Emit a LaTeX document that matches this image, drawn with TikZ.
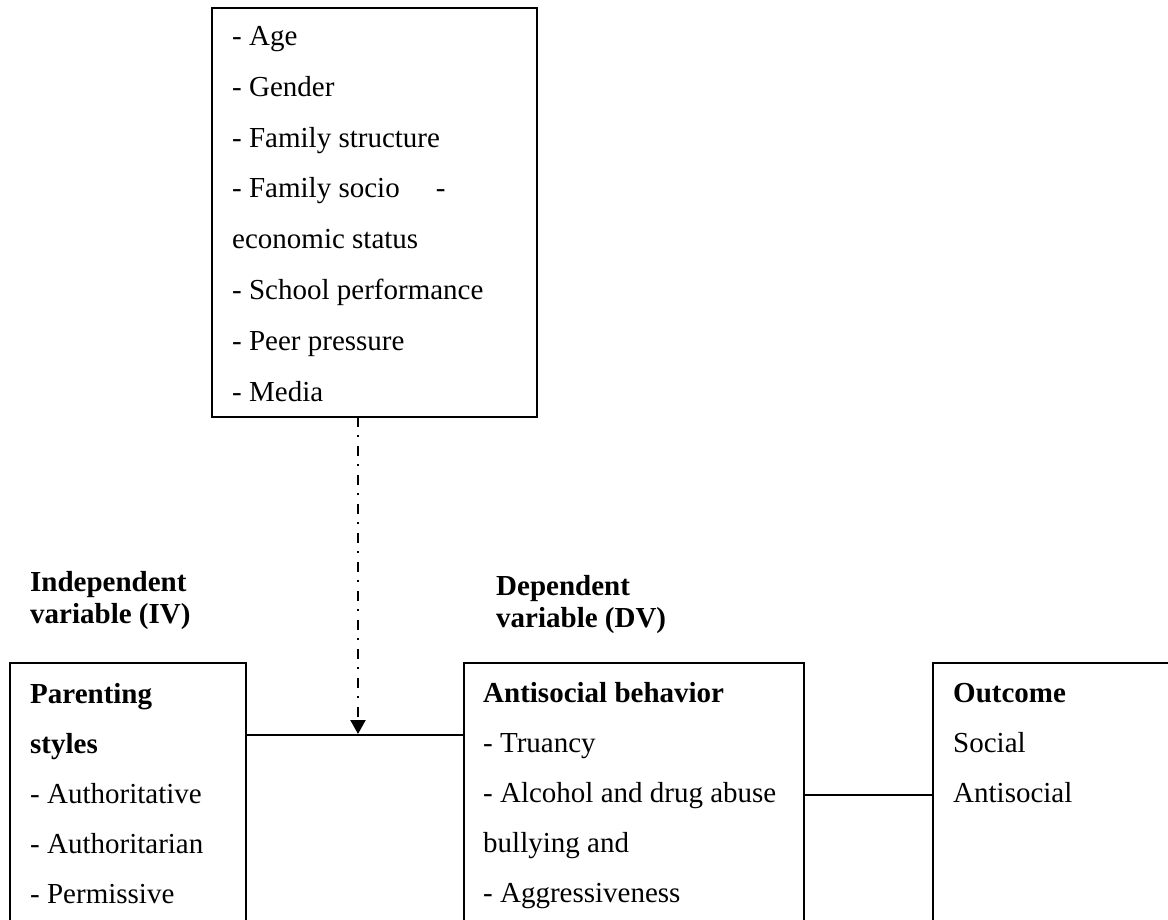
\documentclass[tikz,border=0pt]{standalone}
\usepackage{fontspec}
\setmainfont{Liberation Serif}
\usetikzlibrary{
    arrows.meta,
    positioning,
    calc
}
\tikzset{%
    >={Triangle[width=15pt,length=14pt]},
    % Specifications for style of boxes and texts:
    box/.style = {
        rectangle, draw=black, line width=2.2pt,
        inner sep=0pt, outer sep=0pt, anchor=north west
    },
    txt/.style = {
        anchor=base west, inner sep=0pt, align=left,
        font=\fontsize{29pt}{50pt}\selectfont
    },
    head/.style = {
        txt, font=\fontsize{29pt}{32pt}\selectfont\bfseries
    },
    link/.style = {draw=black, line width=2.2pt},
    modline/.style = {link, dash pattern=on 10pt off 8pt on 2pt off 9pt}
}

\begin{document}
\begin{tikzpicture}[x=1pt, y=-1pt]
    \useasboundingbox[fill=white] (0,0) rectangle (1168,920);
    % boxes
    \node[box, minimum width=325pt, minimum height=409pt] (factors) at (212,8) {};
    \node[box, minimum width=236pt, minimum height=300pt] (parenting) at (10,663) {};
    \node[box, minimum width=340pt, minimum height=300pt] (behavior) at (464,663) {};
    \node[box, minimum width=300pt, minimum height=300pt] (outcome) at (933,663) {};
    % texts (placed by the baseline of their last line)
    \node[txt, font=\fontsize{29pt}{50.8pt}\selectfont] (factorstext) at (232,401)
        {- Age\\- Gender\\- Family structure\\- Family socio\hspace{36pt}-\\economic status\\- School performance\\- Peer pressure\\- Media};
    \node[txt] (parentingtext) at (30,903)
        {\textbf{Parenting}\\\textbf{styles}\\- Authoritative\\- Authoritarian\\- Permissive};
    \node[txt] (behaviortext) at (483,902)
        {\textbf{Antisocial behavior}\\- Truancy\\- Alcohol and drug abuse\\bullying and\\- Aggressiveness};
    \node[txt] (outcometext) at (953,802)
        {\textbf{Outcome}\\Social\\Antisocial};
    \node[head] (ivlabel) at (30,623) {Independent\\variable (IV)};
    \node[head] (dvlabel) at (496,627) {Dependent\\variable (DV)};
    % connectors
    \coordinate (ivjoin) at ([yshift=-72pt]parenting.north east);
    \draw[link] (ivjoin) -- (ivjoin -| behavior.west);
    \coordinate (dvjoin) at ([yshift=-132pt]behavior.north east);
    \draw[link] (dvjoin) -- (dvjoin -| outcome.west);
    \coordinate (modstart) at ([xshift=-16.5pt]factors.south);
    \draw[modline, ->, shorten >=1pt] (modstart) -- (modstart |- ivjoin);
\end{tikzpicture}
\end{document}
